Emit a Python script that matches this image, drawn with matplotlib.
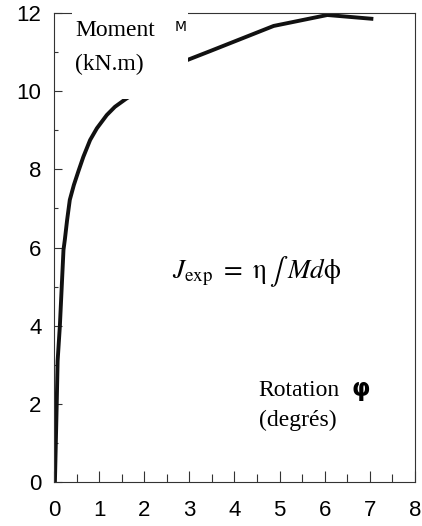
import matplotlib.pyplot as plt
from matplotlib.patches import Rectangle
from matplotlib.ticker import MultipleLocator

# courbe moment-rotation
rotation = [0.02, 0.06, 0.08, 0.13, 0.21, 0.24, 0.29, 0.35, 0.44, 0.54, 0.65,
            0.8, 0.95, 1.17, 1.35, 1.59, 2.96, 3.47, 4.87, 6.06, 7.08]
moment = [0.0, 2.0, 3.1, 4.0, 5.94, 6.2, 6.7, 7.22, 7.6, 7.95, 8.32,
          8.75, 9.05, 9.39, 9.6, 9.8, 10.8, 11.03, 11.67, 11.95, 11.85]

x_ticks = [0, 1, 2, 3, 4, 5, 6, 7, 8]
y_ticks = [0, 2, 4, 6, 8, 10, 12]

plt.rcParams['mathtext.fontset'] = 'stix'

fig = plt.figure(figsize=(4.22, 5.26), dpi=100)
ax = fig.add_axes([0.128, 0.0837, 0.855, 0.8915])

ax.plot(rotation, moment, color='#111111', lw=2.8, solid_capstyle='butt',
        solid_joinstyle='round', zorder=2)

ax.set_xlim(0, 8)
ax.set_ylim(0, 12)
ax.set_xticks(x_ticks)
ax.set_yticks(y_ticks)
ax.xaxis.set_minor_locator(MultipleLocator(0.5))
ax.yaxis.set_minor_locator(MultipleLocator(1))

ax.tick_params(axis='x', which='major', direction='in', length=8, width=0.8,
               pad=13, labelsize=16, color='#333333')
ax.tick_params(axis='x', which='minor', direction='in', length=6, width=0.8,
               color='#333333')
ax.tick_params(axis='y', which='major', direction='in', length=6, width=0.8,
               pad=9, labelsize=16, color='#333333')
ax.tick_params(axis='y', which='minor', direction='in', length=3, width=0.8,
               color='#333333')
for lab in ax.get_xticklabels() + ax.get_yticklabels():
    lab.set_family('Liberation Sans')

for side in ['left', 'bottom', 'right', 'top']:
    ax.spines[side].set_linewidth(0.8)
    ax.spines[side].set_color('#333333')

# cache blanc derriere l'etiquette du moment
ax.add_patch(Rectangle((0.05, 0.817), 0.321, 0.2, transform=ax.transAxes,
                       facecolor='white', edgecolor='none', zorder=3, clip_on=False))

serif = 'Liberation Serif'
ax.text(0.47, 11.41, 'Moment', family=serif, fontsize=17, zorder=4)
ax.text(0.47, 10.54, '(kN.m)', family=serif, fontsize=17, zorder=4)
ax.text(2.68, 11.55, 'M', family='DejaVu Sans', fontsize=10, zorder=4)

ax.text(4.5, 5.22,
        r'$J_{\mathrm{exp}}\ =\ \mathrm{\eta}\,\mathrm{\int}\;Md\mathrm{\phi}$',
        fontsize=19.5, ha='center', va='baseline', zorder=4)

ax.text(4.54, 2.2, 'Rotation', family=serif, fontsize=17, zorder=4)
ax.text(6.6, 2.2, 'φ', family='DejaVu Sans', fontsize=17, fontweight='bold', zorder=4)
ax.text(4.54, 1.43, '(degrés)', family=serif, fontsize=17, zorder=4)

fig.savefig('out.png', dpi=100)
